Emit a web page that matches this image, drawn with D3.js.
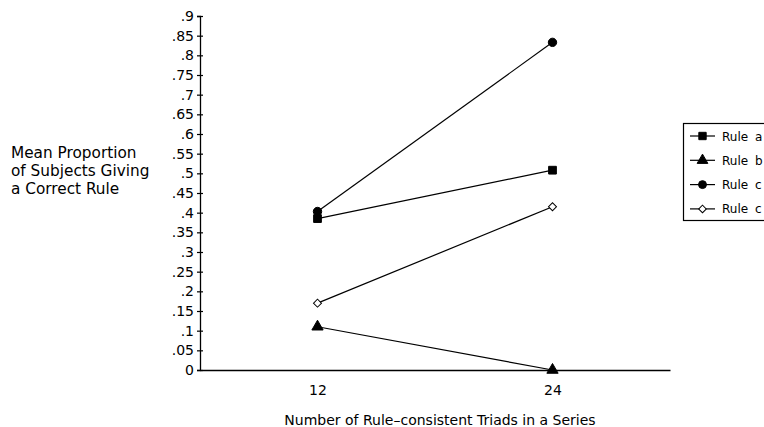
<!DOCTYPE html>
<html><head><meta charset="utf-8">
<script src="https://cdn.jsdelivr.net/npm/d3@7"></script>
<style>
body{margin:0;background:#fff;}
svg{display:block;font-family:"DejaVu Sans",sans-serif;}
</style></head>
<body><svg id="c" width="764" height="427"></svg>
<script>
// data
const categories = [12, 24];
const ruleA = [0.385, 0.508];
const ruleB = [0.11, 0.0];
const ruleC = [0.403, 0.833];
const ruleD = [0.17, 0.415];
const seriesNames = ["Rule a", "Rule b", "Rule c", "Rule c"];
const yTicks = [0, .05, .1, .15, .2, .25, .3, .35, .4, .45, .5, .55, .6, .65, .7, .75, .8, .85, .9];
const yTickLabels = ["0", ".05", ".1", ".15", ".2", ".25", ".3", ".35", ".4", ".45", ".5", ".55", ".6", ".65", ".7", ".75", ".8", ".85", ".9"];
const yTitle = ["Mean Proportion", "of Subjects Giving", "a Correct Rule"];
const xTitle = "Number of Rule\u2013consistent Triads in a Series";

const svg = d3.select("#c");
const x = d3.scaleLinear().domain([6, 30]).range([200, 670]);
const y = d3.scaleLinear().domain([0, 0.9]).range([370, 16]);

// y axis
const ya = svg.append("g").attr("transform", "translate(200,0)")
  .call(d3.axisLeft(y).tickValues(yTicks).tickFormat((d, i) => yTickLabels[i]).tickSizeOuter(0).tickSize(3).tickPadding(3));
ya.select(".domain").attr("stroke", "#000").attr("stroke-width", 1.3);
ya.selectAll(".tick line").attr("x1", -3).attr("x2", 3).attr("stroke-width", 1.2);
ya.selectAll(".tick text").attr("font-size", 14).attr("font-family", "DejaVu Sans").attr("fill", "#000");

// x axis
const xa = svg.append("g").attr("transform", "translate(0,370)")
  .call(d3.axisBottom(x).tickValues(categories).tickSize(0).tickSizeOuter(0).tickPadding(15));
xa.select(".domain").attr("stroke", "#000").attr("stroke-width", 1.3);
xa.selectAll(".tick text").attr("font-size", 14).attr("font-family", "DejaVu Sans").attr("fill", "#000");

// titles
svg.append("g").selectAll("text").data(yTitle).join("text")
  .attr("x", 11).attr("y", (d, i) => 158 + i * 18).attr("font-size", 15.3).text(d => d);
svg.append("text").attr("x", 440).attr("y", 425).attr("text-anchor", "middle").attr("font-size", 14).text(xTitle);

const series = [
  {name: seriesNames[0], vals: ruleA, sym: d3.symbolSquare, size: 60, fill: "#000", rot: 0},
  {name: seriesNames[1], vals: ruleB, sym: d3.symbolTriangle, size: 55, fill: "#000", rot: 0},
  {name: seriesNames[2], vals: ruleC, sym: d3.symbolCircle, size: 55, fill: "#000", rot: 0},
  {name: seriesNames[3], vals: ruleD, sym: d3.symbolSquare, size: 32, fill: "#fff", rot: 45}
];

const line = d3.line().x((d, i) => x(categories[i])).y(d => y(d));
series.forEach(s => {
  svg.append("path").attr("d", line(s.vals)).attr("fill", "none").attr("stroke", "#000").attr("stroke-width", 1.2);
});
series.forEach(s => {
  svg.append("g").selectAll("path").data(s.vals).join("path")
    .attr("transform", (d, i) => `translate(${x(categories[i])},${y(d)}) rotate(${s.rot})`)
    .attr("d", d3.symbol().type(s.sym).size(s.size))
    .attr("fill", s.fill).attr("stroke", "#000").attr("stroke-width", 1);
});

// legend
const lg = svg.append("g");
lg.append("rect").attr("x", 683.5).attr("y", 123.5).attr("width", 120).attr("height", 97)
  .attr("fill", "none").attr("stroke", "#000").attr("stroke-width", 1.2);
series.forEach((s, i) => {
  const yy = 136 + i * 24.3;
  lg.append("line").attr("x1", 690).attr("x2", 715).attr("y1", yy).attr("y2", yy).attr("stroke", "#000").attr("stroke-width", 1.2);
  lg.append("path").attr("transform", `translate(702.5,${yy}) rotate(${s.rot})`).attr("d", d3.symbol().type(s.sym).size(s.size * 0.9))
    .attr("fill", s.fill).attr("stroke", "#000").attr("stroke-width", 1);
  lg.append("text").attr("x", 722).attr("y", yy + 4.5).attr("font-size", 12).attr("word-spacing", 3).text(s.name);
});
</script></body></html>
